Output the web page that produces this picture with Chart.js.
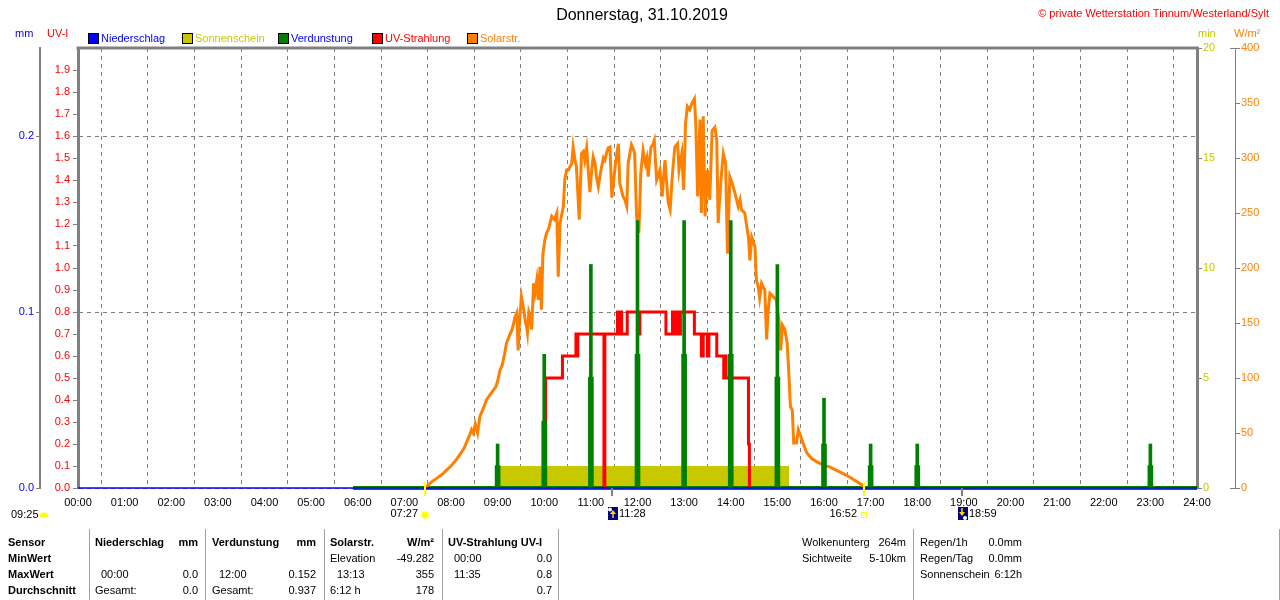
<!DOCTYPE html>
<html><head><meta charset="utf-8">
<script src="https://cdn.jsdelivr.net/npm/chart.js@4.4.0/dist/chart.umd.min.js"></script>
<style>
html,body{margin:0;padding:0;background:#fff;}
#wrap{position:relative;width:1280px;height:600px;overflow:hidden;font-family:"Liberation Sans",Arial,sans-serif;font-size:11px;color:#000;}
#c{position:absolute;left:0;top:0;}
.t{position:absolute;white-space:nowrap;line-height:14px;height:14px;}
.sep{position:absolute;width:1px;background:#a0a0a0;top:529px;height:71px;}
.lg{position:absolute;width:9px;height:9px;border:1px solid #000;}
</style></head><body><div id="wrap"><canvas id="c" width="1280" height="600"></canvas></div>
<script>
// ---------------- DATA ----------------
const hourTicks = [0,1,2,3,4,5,6,7,8,9,10,11,12,13,14,15,16,17,18,19,20,21,22,23,24];

const niedHours = [0, 24];
const niedMM    = [0, 0];

const sunHours = [9.0, 15.25];
const sunMin   = [1, 1];

const verdBaseHours = [5.9, 24];
const verdBaseMM    = [0, 0];
const verdHours = [9, 10, 11, 12, 13, 14, 15, 16, 17, 18, 23];
const verdHigh  = [0.025, 0.076, 0.127, 0.152, 0.152, 0.152, 0.127, 0.051, 0.025, 0.025, 0.025];
const verdLow   = [0.0127, 0.038, 0.063, 0.076, 0.076, 0.076, 0.063, 0.025, 0.0127, 0.0127, 0.0127];

const uvHours = [10.0, 10.03, 10.39, 10.68, 10.7, 10.72, 11.28, 11.3, 11.57, 11.59, 11.6, 11.63, 11.64, 11.66, 11.78, 12.02, 12.05, 12.61, 12.75, 12.8, 12.82, 12.85, 12.88, 12.9, 12.92, 13.22, 13.37, 13.41, 13.5, 13.53, 13.7, 13.85, 13.87, 13.9, 14.38, 14.4];
const uvIndex = [0, 0.5, 0.6, 0.7, 0.6, 0.7, 0, 0.7, 0.8, 0.7, 0.8, 0.7, 0.8, 0.7, 0.8, 0.7, 0.8, 0.7, 0.8, 0.7, 0.8, 0.7, 0.8, 0.7, 0.8, 0.7, 0.6, 0.7, 0.6, 0.7, 0.6, 0.5, 0.6, 0.5, 0.2, 0];

const solarHours = [7.45,7.52,7.6,7.7,7.8,7.9,8.0,8.1,8.2,8.28,8.35,8.4,8.44,8.48,8.52,8.57,8.62,8.7,8.76,8.84,8.91,8.96,9.0,9.05,9.1,9.15,9.19,9.25,9.3,9.33,9.37,9.41,9.44,9.47,9.51,9.56,9.6,9.62,9.64,9.67,9.7,9.73,9.77,9.8,9.84,9.87,9.91,9.94,9.97,10.01,10.05,10.09,10.16,10.22,10.27,10.3,10.34,10.41,10.44,10.48,10.52,10.55,10.59,10.62,10.66,10.69,10.75,10.8,10.84,10.87,10.91,10.95,10.98,11.02,11.05,11.09,11.12,11.16,11.2,11.23,11.27,11.3,11.34,11.37,11.41,11.45,11.49,11.52,11.56,11.59,11.62,11.66,11.69,11.73,11.77,11.8,11.84,11.87,11.91,11.94,11.98,12.03,12.07,12.12,12.17,12.2,12.23,12.26,12.29,12.33,12.36,12.41,12.45,12.48,12.53,12.56,12.59,12.63,12.66,12.7,12.75,12.8,12.86,12.89,12.95,12.99,13.03,13.07,13.12,13.17,13.22,13.25,13.29,13.34,13.37,13.41,13.45,13.5,13.55,13.6,13.66,13.7,13.73,13.79,13.84,13.89,13.93,13.98,14.03,14.09,14.16,14.2,14.23,14.3,14.35,14.38,14.41,14.45,14.52,14.55,14.59,14.62,14.66,14.73,14.77,14.8,14.84,14.91,14.98,15.04,15.07,15.11,15.16,15.21,15.25,15.28,15.32,15.35,15.41,15.45,15.5,15.55,15.63,15.73,15.84,15.98,16.13,16.27,16.41,16.55,16.7,16.81,16.87];
const solarWm2 = [0,3,6,9,12,16,20,25,31,36,43,48,53,50,58,50,65,73,80,85,89,92,97,107,112,122,132,138,143,147,155,159,125,152,174,162,150,147,141,160,156,144,186,177,189,171,201,162,212,225,232,235,247,244,250,192,241,256,280,289,289,292,295,310,298,292,244,304,306,298,309,285,269,290,301,295,283,274,285,292,300,298,305,309,310,264,280,292,305,313,277,270,265,262,256,295,305,312,308,304,247,232,286,307,295,300,283,298,310,312,316,280,285,289,265,283,298,275,259,253,286,310,313,289,304,271,331,347,344,350,354,331,265,335,250,338,247,289,262,325,328,316,241,280,304,295,213,283,277,268,256,262,253,250,236,228,207,228,219,189,183,173,186,180,135,160,177,174,171,150,125,148,144,132,101,74,71,41,41,53,47,41,32,27,24,21,19,16,13,10,6,3,0];

const eventTimes = ["07:27", "11:28", "16:52", "18:59"];
const eventKinds = ["sunrise", "moonrise", "sunset", "moonset"];

// ---------------- CHART ----------------
const FONT = "'Liberation Sans', Arial, sans-serif";
const GRAY = '#808080';
const pts = (xs, ys) => xs.map((x, i) => ({x: x, y: ys[i]}));
const toHours = s => { const p = s.split(':'); return +p[0] + (+p[1]) / 60; };
const pad2 = n => String(n).padStart(2, '0');

const extras = {
  id: 'extras',
  afterDraw(chart) {
    const c = chart.ctx, xs = chart.scales.x, a = chart.chartArea;
    c.save();
    // top border of the plot
    c.strokeStyle = GRAY; c.lineWidth = 3;
    c.beginPath(); c.moveTo(a.left - 1.5, a.top); c.lineTo(a.right + 1.5, a.top); c.stroke();
    // T-ends of the W/m² axis
    const yw = chart.scales.yW;
    c.lineWidth = 1;
    c.beginPath();
    c.moveTo(yw.left - 5, a.top + 0.5); c.lineTo(yw.left, a.top + 0.5);
    c.moveTo(yw.left - 5, a.bottom + 0.5); c.lineTo(yw.left, a.bottom + 0.5);
    c.stroke();
    // day-length icon
    c.fillStyle = '#FFFF00';
    c.beginPath(); c.arc(44, 517, 4.5, Math.PI, 0); c.closePath(); c.fill();

    c.font = '11px ' + FONT; c.textBaseline = 'middle';
    eventTimes.forEach((t, i) => {
      const x = Math.round(xs.getPixelForValue(toHours(t)));
      const k = eventKinds[i];
      if (k === 'sunrise' || k === 'sunset') {
        c.strokeStyle = '#FFFF00'; c.lineWidth = 2;
        c.beginPath(); c.moveTo(x, a.bottom - 6); c.lineTo(x, a.bottom + 8); c.stroke();
        if (k === 'sunrise') {
          c.strokeStyle = '#FFFF99'; c.lineWidth = 1;
          c.beginPath();
          for (let j = 0; j < 8; j++) {
            const an = j * Math.PI / 4;
            c.moveTo(x + Math.cos(an) * 3, 515 + Math.sin(an) * 3);
            c.lineTo(x + Math.cos(an) * 5.5, 515 + Math.sin(an) * 5.5);
          }
          c.stroke();
          c.fillStyle = '#FFFF00';
          c.beginPath(); c.arc(x, 515, 3.5, 0, Math.PI * 2); c.fill();
        } else {
          c.strokeStyle = '#FFFF00'; c.lineWidth = 1;
          c.strokeRect(x - 2.5, 512.5, 5, 5);
        }
        c.fillStyle = '#000'; c.textAlign = 'right';
        c.fillText(t, x - 7, 514);
      } else {
        c.strokeStyle = GRAY; c.lineWidth = 2;
        c.beginPath(); c.moveTo(x - 1, a.bottom); c.lineTo(x - 1, a.bottom + 8); c.stroke();
        c.fillStyle = '#000080';
        c.fillRect(x - 5, 507, 10, 13);
        c.fillStyle = '#FFFFFF';
        c.beginPath();
        if (k === 'moonrise') c.arc(x - 3, 509.5, 2, 0, Math.PI * 2);
        else c.arc(x + 2, 518, 2, 0, Math.PI * 2);
        c.fill();
        c.fillStyle = '#FFD700';
        c.beginPath();
        if (k === 'moonrise') { c.moveTo(x, 510); c.lineTo(x + 3, 514); c.lineTo(x - 3, 514); }
        else { c.moveTo(x - 1, 516); c.lineTo(x + 2, 512); c.lineTo(x - 4, 512); }
        c.closePath(); c.fill();
        c.fillRect(k === 'moonrise' ? x - 0.75 : x - 1.75, k === 'moonrise' ? 513 : 508, 1.5, 5);
        c.fillStyle = '#000'; c.textAlign = 'left';
        c.fillText(t, x + 6, 514);
      }
    });
    c.restore();
  }
};

new Chart(document.getElementById('c'), {
  type: 'line',
  data: { datasets: [
    {label: 'Niederschlag', data: pts(niedHours, niedMM), yAxisID: 'yMM', borderColor: '#0000FF', borderWidth: 1.5, pointRadius: 0, order: 0, clip: false},
    {type: 'bar', label: 'Verdunstung', data: pts(verdHours, verdHigh), yAxisID: 'yMM', backgroundColor: '#008000', borderWidth: 0, barThickness: 3, grouped: false, order: 1},
    {type: 'bar', label: 'Verdunstung', data: pts(verdHours, verdLow), yAxisID: 'yMM', backgroundColor: '#008000', borderWidth: 0, barThickness: 5, grouped: false, order: 2},
    {label: 'UV-Strahlung', data: pts(uvHours, uvIndex), yAxisID: 'yUV', borderColor: '#FF0000', borderWidth: 3, stepped: true, pointRadius: 0, order: 3, clip: false},
    {label: 'Solarstr.', data: pts(solarHours, solarWm2), yAxisID: 'yW', borderColor: '#FF8000', borderWidth: 3, pointRadius: 0, tension: 0, order: 4},
    {label: 'Verdunstung', data: pts(verdBaseHours, verdBaseMM), yAxisID: 'yMM', borderColor: '#008000', borderWidth: 4, pointRadius: 0, order: 5, clip: false},
    {label: 'Sonnenschein', data: pts(sunHours, sunMin), yAxisID: 'yMin', borderColor: '#C8C800', backgroundColor: '#C8C800', borderWidth: 0, fill: 'origin', pointRadius: 0, order: 6}
  ]},
  options: {
    responsive: false, animation: false, events: [],
    layout: {padding: {left: 0, right: 0, top: 48, bottom: 92}},
    plugins: {legend: {display: false}, tooltip: {enabled: false}},
    scales: {
      x: {
        type: 'linear', position: 'bottom', min: 0, max: 24, offset: false,
        afterBuildTicks: s => { s.ticks = hourTicks.map(v => ({value: v})); },
        ticks: {autoSkip: false, maxRotation: 0, padding: 8, color: '#000', font: {family: FONT, size: 11},
                callback: v => pad2(v) + ':00'},
        grid: {display: true, drawOnChartArea: true, drawTicks: false, color: GRAY, lineWidth: 1},
        border: {display: false, dash: [4, 4]},
        afterFit: s => { s.height = 20; }
      },
      yMM: {
        position: 'left', weight: 1, min: 0, max: 0.25,
        ticks: {stepSize: 0.1, includeBounds: false, color: '#0000FF', padding: 2, font: {family: FONT, size: 11}, callback: v => v.toFixed(1)},
        grid: {display: true, drawOnChartArea: true, drawTicks: true, tickLength: 4, color: GRAY, tickColor: GRAY, lineWidth: 1},
        border: {display: true, color: GRAY, width: 2, dash: [4, 4]},
        afterFit: s => { s.width = 40; }
      },
      yUV: {
        position: 'left', weight: 0, min: 0, max: 2,
        ticks: {stepSize: 0.1, color: '#FF0000', padding: 3, font: {family: FONT, size: 11},
                callback: v => (v > 1.95 ? null : v.toFixed(1))},
        grid: {display: true, drawOnChartArea: false, drawTicks: true, tickLength: 5, tickColor: GRAY, color: GRAY},
        border: {display: true, color: GRAY, width: 3},
        afterFit: s => { s.width = 38; }
      },
      yMin: {
        position: 'right', weight: 0, min: 0, max: 20,
        ticks: {stepSize: 5, color: '#C8C800', padding: 1, font: {family: FONT, size: 11}},
        grid: {display: true, drawOnChartArea: false, drawTicks: true, tickLength: 5, tickColor: GRAY, color: GRAY},
        border: {display: true, color: GRAY, width: 3},
        afterFit: s => { s.width = 38; }
      },
      yW: {
        position: 'right', weight: 1, min: 0, max: 400,
        ticks: {stepSize: 50, color: '#FF8000', padding: 1, font: {family: FONT, size: 11}},
        grid: {display: true, drawOnChartArea: false, drawTicks: true, tickLength: 5, tickColor: GRAY, color: GRAY},
        border: {display: true, color: GRAY, width: 1},
        afterFit: s => { s.width = 45; }
      }
    }
  },
  plugins: [extras]
});

// ---------------- TEXT ----------------
const wrap = document.getElementById('wrap');
function txt(s, x, y, o) {
  o = o || {};
  const d = document.createElement('div');
  d.className = 't'; d.textContent = s;
  const size = o.size || 11, lh = size + 4;
  d.style.fontSize = size + 'px'; d.style.lineHeight = lh + 'px'; d.style.height = lh + 'px';
  d.style.top = (y - lh / 2) + 'px';
  if (o.align === 'right') d.style.right = (1280 - x) + 'px';
  else if (o.align === 'center') { d.style.left = (x - 300) + 'px'; d.style.width = '600px'; d.style.textAlign = 'center'; }
  else d.style.left = x + 'px';
  if (o.color) d.style.color = o.color;
  if (o.bold) d.style.fontWeight = 'bold';
  wrap.appendChild(d);
}
function box(x, y, color) {
  const d = document.createElement('div');
  d.className = 'lg'; d.style.left = x + 'px'; d.style.top = y + 'px'; d.style.background = color;
  wrap.appendChild(d);
}
function sep(x) {
  const d = document.createElement('div');
  d.className = 'sep'; d.style.left = x + 'px';
  wrap.appendChild(d);
}

txt('Donnerstag, 31.10.2019', 642, 15, {align: 'center', size: 16});
txt('\u00A9 private Wetterstation Tinnum/Westerland/Sylt', 1269, 13, {align: 'right', color: '#FF0000'});
txt('mm', 15, 33, {color: '#0000FF'});
txt('UV-I', 47, 33, {color: '#FF0000'});
txt('min', 1198, 33, {color: '#C8C800'});
txt('W/m\u00B2', 1234, 33, {color: '#FF8000'});

const legendNames  = ['Niederschlag', 'Sonnenschein', 'Verdunstung', 'UV-Strahlung', 'Solarstr.'];
const legendBoxes  = ['#0000FF', '#C8C800', '#008000', '#FF0000', '#FF8000'];
const legendTexts  = ['#0000FF', '#C8C800', '#0000FF', '#FF0000', '#FF8000'];
const legendX = [88, 182, 278, 372, 467];
legendNames.forEach((n, i) => { box(legendX[i], 33, legendBoxes[i]); txt(n, legendX[i] + 13, 38, {color: legendTexts[i]}); });

txt('09:25', 11, 514);

[89, 205, 324, 442, 558, 913, 1279].forEach(sep);
const r1 = 542, r2 = 558, r3 = 574, r4 = 590;
txt('Sensor', 8, r1, {bold: true});
txt('MinWert', 8, r2, {bold: true});
txt('MaxWert', 8, r3, {bold: true});
txt('Durchschnitt', 8, r4, {bold: true});

txt('Niederschlag', 95, r1, {bold: true}); txt('mm', 198, r1, {bold: true, align: 'right'});
txt('00:00', 101, r3); txt('0.0', 198, r3, {align: 'right'});
txt('Gesamt:', 95, r4); txt('0.0', 198, r4, {align: 'right'});

txt('Verdunstung', 212, r1, {bold: true}); txt('mm', 316, r1, {bold: true, align: 'right'});
txt('12:00', 219, r3); txt('0.152', 316, r3, {align: 'right'});
txt('Gesamt:', 212, r4); txt('0.937', 316, r4, {align: 'right'});

txt('Solarstr.', 330, r1, {bold: true}); txt('W/m\u00B2', 434, r1, {bold: true, align: 'right'});
txt('Elevation', 330, r2); txt('-49.282', 434, r2, {align: 'right'});
txt('13:13', 337, r3); txt('355', 434, r3, {align: 'right'});
txt('6:12 h', 330, r4); txt('178', 434, r4, {align: 'right'});

txt('UV-Strahlung UV-I', 448, r1, {bold: true});
txt('00:00', 454, r2); txt('0.0', 552, r2, {align: 'right'});
txt('11:35', 454, r3); txt('0.8', 552, r3, {align: 'right'});
txt('0.7', 552, r4, {align: 'right'});

txt('Wolkenunterg', 802, r1); txt('264m', 906, r1, {align: 'right'});
txt('Sichtweite', 802, r2); txt('5-10km', 906, r2, {align: 'right'});
txt('Regen/1h', 920, r1); txt('0.0mm', 1022, r1, {align: 'right'});
txt('Regen/Tag', 920, r2); txt('0.0mm', 1022, r2, {align: 'right'});
txt('Sonnenschein', 920, r3); txt('6:12h', 1022, r3, {align: 'right'});
</script></body></html>
